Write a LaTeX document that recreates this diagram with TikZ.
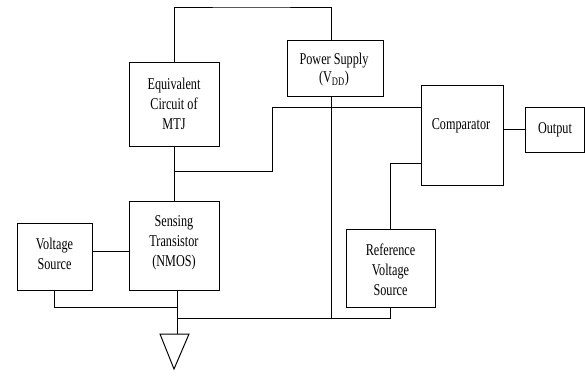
\documentclass[tikz,border=0pt]{standalone}
\usepackage{fontspec}
\setmainfont{Liberation Serif}[FakeStretch=0.74]
\begin{document}
\begin{tikzpicture}[x=1pt,y=-1pt,line width=1pt,
  blk/.style={draw,inner sep=0pt},
  lbl/.style={align=center,inner sep=0pt,font=\fontsize{16.5}{20}\selectfont}]
\useasboundingbox (0,0) rectangle (585,376);
% boxes
\node[blk,minimum width=90pt,minimum height=84pt] (mtj) at (174,104) {};
\node[blk,minimum width=96pt,minimum height=56pt] (ps) at (335,68) {};
\node[blk,minimum width=82pt,minimum height=100pt] (comp) at (462,135) {};
\node[blk,minimum width=59pt,minimum height=45pt] (out) at (554.5,129.5) {};
\node[blk,minimum width=75pt,minimum height=67pt] (vs) at (54.5,256.5) {};
\node[blk,minimum width=90pt,minimum height=89pt] (st) at (174,245.5) {};
\node[blk,minimum width=89pt,minimum height=78pt] (ref) at (390.5,268) {};
% texts
\node[lbl] (mtjT) at (174,104) {Equivalent\\Circuit of\\MTJ};
\node[lbl] (psT) at (334,70) {Power Supply\\[-2pt](V\textsubscript{DD})};
\node[lbl] (compT) at (461,126) {Comparator};
\node[lbl] (outT) at (555,130) {Output};
\node[lbl] (vsT) at (54.5,254) {Voltage\\Source};
\node[lbl] (stT) at (174,242.5) {Sensing\\Transistor\\(NMOS)};
\node[lbl] (refT) at (390.5,269.5) {Reference\\Voltage\\Source};
% helper coordinates
\coordinate (t1) at (250,7);
\coordinate (vx) at (331,0);
\coordinate (j1) at (174,171);
\coordinate (k1) at (272,107);
\coordinate (bus) at (177,318);
\coordinate (vsb) at (177,307);
\coordinate (sb) at (177,290);
\coordinate (gtop) at (177,334);
\coordinate (gtip) at (174,369);
% connectors
\draw (mtj.north) |- (t1) -| (vx |- ps.north);
\draw (mtj.south) -- (st.north);
\draw (j1) -| (k1) -- (k1 -| comp.west);
\draw (vx |- ps.south) -- (vx |- bus);
\draw (comp.east |- out.west) -- (out.west);
\draw (ref.north) |- (comp.west |- 0,163);
\draw (ref.south) |- (bus);
\draw (vs.east |- 0,251) -- (st.west |- 0,251);
\draw (vs.south) |- (vsb);
\draw (sb) -- (gtop);
\draw ([xshift=-17pt]gtop) -- ([xshift=12pt]gtop) -- (gtip) -- cycle;
\end{tikzpicture}
\end{document}
